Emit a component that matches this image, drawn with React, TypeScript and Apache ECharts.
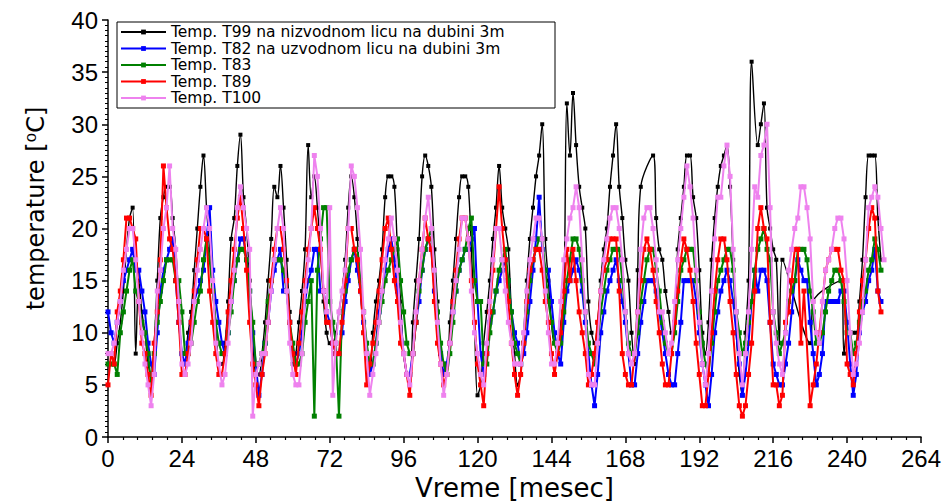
import { useEffect, useRef } from "react";
import * as echarts from "echarts";

// Monthly temperature readings, index = month (0 = start). null = no reading.
const seriesNames = [
  "Temp. T99 na nizvodnom licu na dubini 3m",
  "Temp. T82 na uzvodnom licu na dubini 3m",
  "Temp. T83",
  "Temp. T89",
  "Temp. T100",
];
const seriesColors = ["#000000", "#0000ff", "#008000", "#ff0000", "#ee82ee"];

const t99: (number | null)[] = [
  8, 8, 7, 9, 11, 14, 18, 21, 22, 8, 15, 12,
  10, 7, 6, 9, 15, 21, 23, 24, 24, 21, 18, 13,
  8, 8, 10, 12, 16, 20, 24, 27, 22, 18, 14, 11,
  7, 7, 9, 13, 19, 21, 26, 29, 23, 20, 15, 10,
  6, 6, 8, 11, 15, 19, 24, 23, 26, 22, 17, 12,
  7, 8, 11, 14, 18, 28, 23, 25, 22, 18, 13, 10,
  9, 9, 10, 12, 14, 17, 22, 25, 23, 19, 14, 10,
  8, 6, 10, 13, 15, 18, 23, 25, 25, 24, 18, 13,
  8, 6, 5, 11, 15, 19, 25, 27, 26, 24, 18, 13,
  8, 6, 6, 11, 15, 19, 23, 25, 25, 24, 18, 11,
  4, 5, 9, 12, 15, 19, 22, 26, 22, 20, 18, 12,
  8, 5, 6, 10, 15, 19, 22, 25, 27, 30, 19, 15,
  11, 9, 9, 11, 13, 32, 27, 33, 28, 24, 22, 20,
  13, 10, 9, 11, 15, 18, 20, 24, 27, 30, 24, 21,
  17, 15, 10, 7, 16, 24, null, null, null, 27, 21, 18,
  17, 14, 12, 10, 11, 18, 21, 24, 27, 27, 23, 21,
  16, 10, 8, 11, 17, 21, 24, 26, 27, 28, 24, 17,
  10, 6, 4, 10, 15, 36, null, 28, 30, 32, 22, 20,
  18, 17, 9, 17, null, null, null, null, null, null, null, null,
  9, 13, null, null, null, null, null, null, null, null, 15, 8,
  10, 10, 10, 10, 13, 17, 23, 27, 27, 27, 21, 17,
];

const t82: (number | null)[] = [
  12, 10, 9, 11, 13, 15, 16, 17, 18, 16, 16, 14,
  12, 9, 7, 6, 10, 14, 16, 17, 18, 19, 15, 11,
  8, 7, 9, 11, 13, 14, 15, 16, 19, 22, 16, 13,
  11, 9, 8, 10, 13, 15, 17, 19, 19, 17, 14, 10,
  7, 4, 6, 9, 11, 14, 16, 17, 18, 14, 14, 11,
  8, 7, 8, 10, 13, 15, 16, 18, 18, 14, 14, 12,
  11, 9, 8, 8, 10, 13, 15, 17, 18, 16, 14, 11,
  8, 6, 7, 9, 12, 14, 16, 18, 19, 17, 14, 11,
  8, 6, 6, 8, 11, 13, 16, 18, 19, 18, 14, 11,
  8, 6, 7, 9, 12, 14, 16, 17, 18, 18, 19, 20,
  13, 8, 6, 8, 11, 12, 14, 15, 16, 17, 15, 12,
  10, 9, 7, 8, 10, 13, 16, 19, 23, 18, 16, 16,
  13, 10, 8, 7, 11, 14, 15, 16, 17, 16, 14, 11,
  8, 5, 3, 6, 10, 12, 14, 15, 16, 17, 15, 13,
  11, 8, 5, 5, 8, 11, 13, 15, 15, 15, 14, 12,
  10, 8, 6, 5, 5, 8, 11, 15, 15, 15, 15, 13,
  10, 7, 5, 3, 6, 10, 12, 14, 15, 16, 15, 13,
  10, 7, 4, 6, 9, 13, 16, 14, 16, 16, 15, 11,
  7, 6, 5, 5, 7, 9, 12, 15, 17, 16, 15, 15,
  11, 8, 5, 6, 8, 13, 13, 13, 13, 13, 14, 14,
  11, 7, 4, 6, 10, 12, 13, 15, 16, 18, 14, 13,
];

const t83: (number | null)[] = [
  7, 7, 7, 6, 10, 12, 14, 16, 17, 14, 13, 11,
  10, 8, 5, 8, 11, 13, 15, 17, 17, 17, 15, 15,
  12, 8, 8, 9, 11, 13, 14, 17, 19, 17, 14, 11,
  9, 8, 8, 10, 12, 15, 17, 18, 18, 17, 14, 11,
  7, 7, 8, 9, 13, 15, 17, 17, 17, 16, 14, 11,
  9, 7, 7, 8, 11, 13, 15, 2, 16, 19, 22, 22,
  13, 11, 9, 2, 12, 14, 16, 17, 18, 18, 15, 12,
  9, 7, 7, 9, 11, 13, 15, 16, 17, 18, 19, 15,
  12, 9, 8, 8, 11, 14, 16, 18, 19, 20, 16, 12,
  9, 7, 6, 8, 11, 14, 16, 17, 18, 20, 21, 15,
  13, 13, 7, 7, 10, 12, 14, 16, 17, 18, 15, 12,
  9, 8, 7, 9, 12, 15, 17, 18, 19, 19, 16, 13,
  11, 9, 8, 9, 12, 15, 17, 19, 19, 18, 15, 12,
  9, 8, 7, 9, 12, 14, 16, 17, 18, 18, 18, 15,
  12, 9, 8, 8, 10, 13, 15, 17, 18, 18, 16, 14,
  11, 9, 8, 8, 10, 13, 16, 17, 18, 18, 18, 15,
  12, 9, 7, 6, 9, 12, 15, 16, 17, 18, 18, 16,
  12, 10, 8, 9, 11, 13, 16, 18, 19, 20, 18, 17,
  12, 10, 8, 9, 10, 13, 14, 15, 18, 18, 18, 17,
  14, 12, 9, 9, 10, 12, 14, 15, 16, 16, 15, 13,
  10, 10, 8, 9, 11, 13, 14, 16, 17, 19, 18, 16,
];

const t89: (number | null)[] = [
  5, 8, 7, 12, 14, 17, 21, 21, 20, 19, 13, 9,
  8, 6, 4, 9, 12, 17, 26, 22, 19, 18, 15, 11,
  6, 6, 8, 11, 14, 17, 20, 20, 19, 14, 11, 8,
  6, 6, 8, 12, 15, 18, 21, 23, 20, 16, 11, 7,
  5, 3, 6, 8, 11, 15, 18, 20, 20, 18, 15, 11,
  8, 6, 9, 12, 15, 18, 20, 22, 20, 18, 14, 11,
  11, 9, 8, 8, 11, 15, 20, 20, 18, 17, 14, 10,
  5, 7, 9, 11, 14, 17, 20, 21, 18, 15, 13, 9,
  8, 6, 4, 8, 11, 15, 18, 21, 19, 18, 13, 9,
  7, 5, 6, 9, 13, 16, 19, 21, 21, 19, 15, 11,
  7, 5, 3, 8, 12, 16, 20, 24, 20, 17, 13, 9,
  6, 4, 6, 9, 13, 16, 17, 18, 18, 16, 13, 11,
  8, 6, 8, 10, 14, 18, 15, 18, 15, 12, 10, 8,
  5, 6, 8, 11, 14, 16, 17, 19, 19, 19, 14, 8,
  6, 5, 5, 8, 12, 15, 18, 19, 18, 16, 13, 10,
  7, 5, 5, 8, 11, 14, 17, 19, 18, 16, 13, 9,
  6, 3, 3, 6, 10, 14, 17, 19, 19, 17, 13, 10,
  6, 3, 2, 3, 6, 9, 14, 20, 22, 20, 19, 11,
  5, 5, 3, 4, 11, 12, 15, 18, 18, 9, 14, null,
  3, 5, 7, 10, 13, 16, 17, 18, 18, 18, 16, 15,
  7, 6, 5, 8, 12, 15, 17, 20, 22, 21, 14, 12,
];

const t100: (number | null)[] = [
  8, 8, 9, 11, 13, 16, 18, 20, 20, 17, 13, 10,
  7, 5, 3, 6, 14, 16, 20, 22, 26, 20, 18, 13,
  7, 6, 7, 9, 13, 16, 18, 20, 22, 20, 15, 9,
  7, 5, 6, 9, 13, 16, 22, 24, 22, 20, 18, 2,
  6, 7, 8, 8, 11, 14, 17, 20, 22, 20, 14, 9,
  6, 5, 5, 8, 14, 17, 20, 27, 25, 20, 14, 12,
  22, 4, 9, 12, 14, 16, 20, 26, 25, 22, 18, 12,
  8, 4, 6, 8, 11, 14, 17, 19, 21, 19, 16, 11,
  8, 6, 5, 8, 12, 15, 18, 21, 23, 20, 16, 11,
  7, 4, 6, 9, 12, 15, 18, 21, 21, 19, 14, 10,
  8, 6, 5, 9, 13, 17, 20, 20, 17, 14, 11, 9,
  7, 7, 7, 10, 14, 17, 19, 21, 21, 19, 14, 10,
  7, 7, 9, 13, 17, 19, 21, 22, 24, 22, 17, 12,
  6, 5, 5, 9, 14, 17, 19, 21, 22, 22, 20, 17,
  12, 8, 7, 8, 12, 18, 21, 22, 22, 20, 17, 12,
  12, 10, 8, 9, 13, 17, 20, 23, 26, 24, 21, 16,
  11, 7, 5, 8, 14, 19, 23, 23, 26, 28, 25, 18,
  12, 8, 5, 8, 12, 18, 24, 23, 27, 28, 30, 22,
  12, 9, 7, 6, 10, 16, 18, 20, 21, 24, 24, 22,
  19, 13, 10, 9, 13, 16, 17, 18, 20, 21, 21, 19,
  15, 10, 6, 7, 9, 12, 17, 22, 23, 24, 23, 20, 17,
];

const allValues = [t99, t82, t83, t89, t100];
const lineWidths = [1.4, 2, 2, 2, 2];
const symbolSizes = [4, 5, 5, 5, 5];

function toPairs(values: (number | null)[]) {
  const out: [number, number][] = [];
  values.forEach((v, i) => {
    if (v !== null) out.push([i, v]);
  });
  return out;
}

const FONT = "'Liberation Sans', Arial, sans-serif";
const WIDE = "'DejaVu Sans', 'Liberation Sans', sans-serif";

export default function App() {
  const ref = useRef<HTMLDivElement>(null);
  useEffect(() => {
    if (!ref.current) return;
    const chart = echarts.init(ref.current, undefined, { renderer: "svg" });
    chart.setOption({
      animation: false,
      backgroundColor: "#ffffff",
      grid: {
        left: 108,
        right: 24,
        top: 20,
        bottom: 66,
        containLabel: false,
        outerBoundsMode: "none",
      },
      legend: {
        orient: "vertical",
        left: 117,
        top: 22,
        padding: [2, 4, 2, 3],
        itemWidth: 45,
        itemHeight: 6,
        itemGap: 0.5,
        borderColor: "#000",
        borderWidth: 1,
        textStyle: {
          fontFamily: WIDE,
          fontSize: 15.5,
          lineHeight: 15.5,
          height: 15.5,
          color: "#000",
          width: 380,
        },
        data: seriesNames,
      },
      xAxis: {
        type: "value",
        min: 0,
        max: 264,
        interval: 24,
        name: "Vreme [mesec]",
        nameLocation: "middle",
        nameGap: 36,
        nameTextStyle: { fontFamily: WIDE, fontSize: 26, lineHeight: 26, color: "#000" },
        axisLine: { show: true, lineStyle: { color: "#000", width: 1.5 } },
        axisTick: { show: true, length: 6, lineStyle: { color: "#000", width: 1.5 } },
        minorTick: { show: true, splitNumber: 5, length: 3, lineStyle: { color: "#000", width: 1.2 } },
        axisLabel: { fontFamily: FONT, fontSize: 24, color: "#000", margin: 9 },
        splitLine: { show: false },
      },
      yAxis: {
        type: "value",
        min: 0,
        max: 40,
        interval: 5,
        name: "temperature [⁰C]",
        nameLocation: "middle",
        nameGap: 60,
        nameTextStyle: {
          fontFamily: WIDE,
          fontSize: 24,
          color: "#000",
          padding: [0, 0, 0, 40],
        },
        axisLine: { show: true, lineStyle: { color: "#000", width: 1.5 } },
        axisTick: { show: true, length: 6, lineStyle: { color: "#000", width: 1.5 } },
        minorTick: { show: true, splitNumber: 10, length: 3, lineStyle: { color: "#000", width: 1 } },
        axisLabel: { fontFamily: FONT, fontSize: 24, color: "#000", margin: 10 },
        splitLine: { show: false },
      },
      series: seriesNames.map((name, i) => ({
        name,
        type: "line",
        data: toPairs(allValues[i]),
        smooth: i === 0 ? 0.35 : false,
        symbol: "rect",
        symbolSize: symbolSizes[i],
        showSymbol: true,
        lineStyle: { color: seriesColors[i], width: lineWidths[i] },
        itemStyle: { color: seriesColors[i] },
        emphasis: { disabled: true },
        z: 2 + i,
      })),
    });
    return () => chart.dispose();
  }, []);
  return (
    <div
      ref={ref}
      style={{ position: "absolute", left: 0, top: 0, width: 945, height: 503 }}
    />
  );
}
